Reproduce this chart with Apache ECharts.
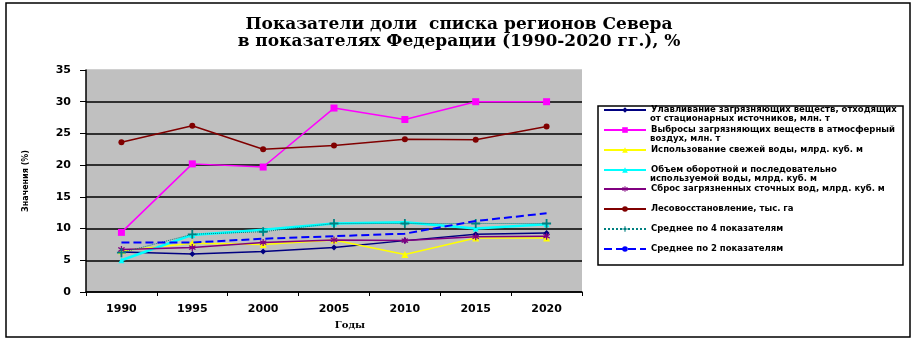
<!DOCTYPE html>
<html>
<head>
<meta charset="utf-8">
<script src="https://cdn.jsdelivr.net/npm/echarts@6/dist/echarts.min.js"></script>
<style>html,body{margin:0;padding:0;background:#fff}#c{width:918px;height:342px}</style>
</head>
<body>
<div id="c"></div>
<script>
// ---- data ----
const years = ['1990', '1995', '2000', '2005', '2010', '2015', '2020'];
const yTicks = [0, 5, 10, 15, 20, 25, 30, 35];
const capture       = [6.3, 6.0, 6.4, 7.0, 8.1, 9.1, 9.3];
const emissions     = [9.4, 20.2, 19.7, 29.0, 27.2, 30.0, 30.0];
const freshWater    = [6.5, 7.7, 7.5, 8.2, 5.9, 8.5, 8.5];
const recycledWater = [5.0, 9.0, 9.8, 10.8, 11.0, 10.0, 10.7];
const discharge     = [6.7, 7.0, 7.8, 8.2, 8.1, 8.7, 8.8];
const reforestation = [23.6, 26.2, 22.5, 23.1, 24.1, 24.0, 26.1];
const avg4          = [6.2, 9.1, 9.5, 10.8, 10.8, 10.8, 10.8];
const avg2          = [7.8, 7.8, 8.4, 8.8, 9.2, 11.2, 12.4];

const names = [
  'Улавливание загрязняющих веществ, отходящих\nот стационарных источников, млн. т',
  'Выбросы загрязняющих веществ в атмосферный\nвоздух, млн. т',
  'Использование свежей воды, млрд. куб. м',
  'Объем оборотной и последовательно\nиспользуемой воды, млрд. куб. м',
  'Сброс загрязненных сточных вод, млрд. куб. м',
  'Лесовосстановление, тыс. га',
  'Среднее по 4 показателям',
  'Среднее по 2 показателям'
];
const titleText = 'Показатели доли  списка регионов Севера\nв показателях Федерации (1990-2020 гг.), %';

const plusPath = 'path://M4,0H6V4H10V6H6V10H4V6H0V4H4Z';
const starPath = 'path://M4.2,0H5.8V3.2L8.6,1.6L9.4,3L6.6,5L9.4,7L8.6,8.4L5.8,6.8V10H4.2V6.8L1.4,8.4L0.6,7L3.4,5L0.6,3L1.4,1.6L4.2,3.2Z';

const seriesDefs = [
  {data: capture, color: '#000080', symbol: 'diamond', size: 6, width: 1.5, type: 'solid'},
  {data: emissions, color: '#ff00ff', symbol: 'rect', size: 7, width: 1.5, type: 'solid'},
  {data: freshWater, color: '#ffff00', symbol: 'triangle', size: 7, width: 1.5, type: 'solid'},
  {data: recycledWater, color: '#00ffff', symbol: 'triangle', size: 6, width: 2.5, type: 'solid'},
  {data: discharge, color: '#800080', symbol: starPath, size: 7, width: 1.5, type: 'solid'},
  {data: reforestation, color: '#800000', symbol: 'circle', size: 6, width: 1.5, type: 'solid'},
  {data: avg4, color: '#008080', symbol: plusPath, size: 9, width: 1, type: 'dotted'},
  {data: avg2, color: '#0000ff', symbol: 'none', size: 0, width: 2, type: 'dashed'}
];

const series = seriesDefs.map((d, i) => ({
  name: names[i],
  type: 'line',
  data: d.data,
  symbol: d.symbol,
  symbolSize: d.size,
  showSymbol: d.symbol !== 'none',
  lineStyle: {color: d.color, width: d.width, type: d.type},
  itemStyle: {color: d.color},
  emphasis: {disabled: true},
  z: 2 + i
}));

const legendFont = {fontFamily: 'DejaVu Sans', fontWeight: 'bold', fontSize: 8.5, color: '#000'};
const legendLeft = 603, legendItemW = 42;
const legendCenters = [110, 130, 150, 170, 189, 209, 229, 249];
const legends = names.map((n, i) => ({
  data: [n],
  left: legendLeft,
  top: legendCenters[i] - 5,
  orient: 'vertical',
  itemWidth: legendItemW,
  itemHeight: 7,
  selectedMode: false,
  padding: 0,
  z: 10,
  formatter: nm => nm.split('\n')[0],
  textStyle: Object.assign({lineHeight: 10}, legendFont)
}));
// second lines of the wrapped legend entries
const legendSecondLines = [];
names.forEach((n, i) => {
  const parts = n.split('\n');
  if (parts.length > 1) {
    legendSecondLines.push({
      type: 'text', z: 10,
      left: legendLeft + legendItemW + 5,
      top: legendCenters[i] + 4.5,
      style: {text: parts[1], fill: '#000', font: 'bold 8.5px "DejaVu Sans"'}
    });
  }
});

const chart = echarts.init(document.getElementById('c'), null, {renderer: 'canvas'});
chart.setOption({
  animation: false,
  backgroundColor: '#fff',
  title: {
    text: titleText,
    left: 'center',
    top: 11,
    textStyle: {fontFamily: 'DejaVu Serif', fontWeight: 'bold', fontSize: 17, lineHeight: 17, color: '#000'}
  },
  grid: {left: 86, right: 336, top: 70, bottom: 50, show: true, backgroundColor: '#c0c0c0', borderWidth: 0},
  legend: legends,
  graphic: [
    {type: 'rect', shape: {x: 6, y: 3, width: 904, height: 334}, style: {fill: 'none', stroke: '#000', lineWidth: 1.5}, z: -1},
    {type: 'rect', shape: {x: 598, y: 106, width: 305, height: 159}, style: {fill: '#fff', stroke: '#000', lineWidth: 1.5}, z: 0}
  ].concat(legendSecondLines),
  xAxis: {
    type: 'category',
    data: years,
    boundaryGap: true,
    name: 'Годы',
    nameLocation: 'middle',
    nameGap: 28,
    nameTextStyle: {fontFamily: 'DejaVu Serif', fontWeight: 'bold', fontSize: 10, color: '#000', padding: [0, 0, 0, 32]},
    axisLine: {lineStyle: {color: '#000', width: 1.5}},
    axisTick: {show: true, length: 4, inside: false, lineStyle: {color: '#000'}},
    axisLabel: {margin: 12, fontFamily: 'DejaVu Sans', fontWeight: 'bold', fontSize: 11, color: '#000'},
    splitLine: {show: false}
  },
  yAxis: {
    type: 'value',
    min: yTicks[0],
    max: yTicks[yTicks.length - 1],
    interval: 5,
    name: 'Значения (%)',
    nameLocation: 'middle',
    nameGap: 56,
    nameRotate: 90,
    nameTextStyle: {fontFamily: 'DejaVu Sans', fontWeight: 'bold', fontSize: 8, color: '#000'},
    axisLine: {show: true, lineStyle: {color: '#000', width: 1.5}},
    axisTick: {show: true, length: 6, lineStyle: {color: '#000'}},
    axisLabel: {margin: 15, fontFamily: 'DejaVu Sans', fontWeight: 'bold', fontSize: 11, color: '#000'},
    splitLine: {show: true, lineStyle: {color: ['#000', '#000', '#000', '#000', '#000', '#000', '#000', '#c0c0c0'], width: 1.5}}
  },
  series: series
});
</script>
</body>
</html>
